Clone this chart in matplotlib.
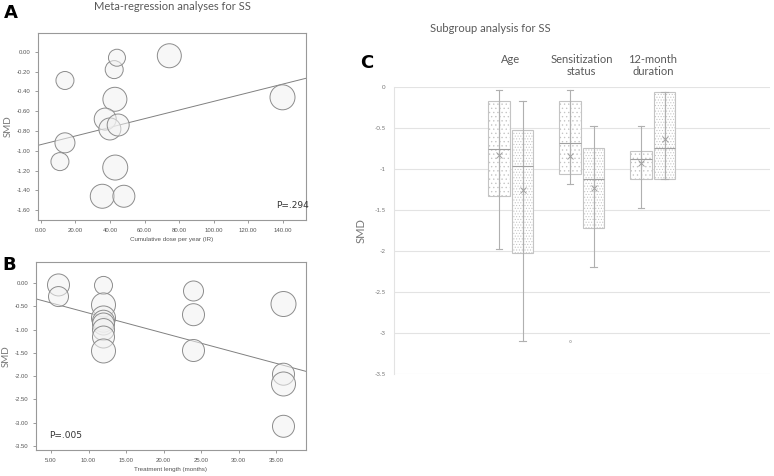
import matplotlib.pyplot as plt
import numpy as np

# ---- data ----
# A: meta-regression on cumulative dose
dose_a = [13.9, 11.0, 13.9, 42.4, 44.0, 74.3, 42.8, 37.2, 39.9, 44.7, 43.0, 35.5, 48.0, 139.8]
smd_a = [-0.29, -1.11, -0.92, -0.18, -0.06, -0.04, -0.48, -0.68, -0.78, -0.74, -1.17, -1.46, -1.46, -0.46]
weight_a = [9, 9, 10, 9, 8.5, 12, 12, 11, 11, 11, 12.5, 12, 11, 12.5]
fit_a = (-0.938, 0.00437)  # intercept, slope

# B: meta-regression on treatment length
months_b = [6, 6, 12, 12, 12, 12, 12, 12, 12, 12, 24, 24, 24, 36, 36, 36, 36]
smd_b = [-0.04, -0.29, -0.05, -0.47, -0.75, -0.82, -0.88, -1.00, -1.16, -1.46,
         -0.17, -0.68, -1.45, -0.45, -1.96, -2.17, -3.08]
weight_b = [11, 10, 9, 12, 12, 11, 11, 11, 11, 12, 10, 11, 11, 12.5, 11, 12, 11]
fit_b = (-0.21, -0.0433)

# C: subgroup box plots (two boxes per group)
groups = ['Age', 'Sensitization\nstatus', '12-month\nduration']
q1 = [-0.17, -0.53, -0.17, -0.75, -0.78, -0.06]
median = [-0.76, -0.97, -0.69, -1.12, -0.88, -0.75]
q3 = [-1.33, -2.02, -1.06, -1.72, -1.12, -1.12]
whis_hi = [-0.04, -0.17, -0.04, -0.48, -0.48, -0.06]
whis_lo = [-1.98, -3.10, -1.19, -2.20, -1.48, -1.12]
mean = [-0.83, -1.26, -0.84, -1.23, -0.93, -0.64]
outliers = [[], [], [-3.10], [], [], []]

grey_txt = '#595959'
plt.rcParams['font.family'] = ['Lato', 'DejaVu Sans']
plt.rcParams['hatch.linewidth'] = 0.45

fig = plt.figure(figsize=(7.74, 4.76), dpi=100)


def bubble_panel(ax, x, y, w, fit, xlim, ylim, xticks, yticks, xlabel, ptxt, ppos):
    s = [(2 * r * 0.72) ** 2 for r in w]
    ax.scatter(x, y, s=s, facecolor=(0.95, 0.95, 0.95, 0.55), edgecolor='#8c8c8c',
               linewidth=0.7, zorder=3)
    xx = np.array(xlim)
    ax.plot(xx, fit[0] + fit[1] * xx, color='#808080', lw=0.7, zorder=2)
    ax.set_xlim(xlim)
    ax.set_ylim(ylim)
    xticks = np.round(xticks, 2) + 0.0
    yticks = np.round(yticks, 2) + 0.0
    ax.set_xticks(xticks)
    ax.set_yticks(yticks)
    ax.set_xticklabels(['%.2f' % abs(t) if t == 0 else '%.2f' % t for t in xticks],
                       family='Liberation Sans')
    ax.set_yticklabels(['%.2f' % abs(t) if t == 0 else '%.2f' % t for t in yticks],
                       family='Liberation Sans')
    ax.tick_params(labelsize=4.3, colors='#8c8c8c', labelcolor='#555555', length=2, width=0.6)
    for sp in ax.spines.values():
        sp.set_color('#999999')
        sp.set_linewidth(0.8)
    ax.set_xlabel(xlabel, fontsize=4.5, color='#555555', labelpad=3, family='Liberation Sans')
    ax.set_ylabel('SMD', fontsize=7, color='#777777', labelpad=3)
    ax.text(ppos[0], ppos[1], ptxt, transform=ax.transAxes, fontsize=6.5, color='#333333',
            family='DejaVu Sans', ha='left', va='center')


# panel A
axA = fig.add_axes([38 / 774, 1 - 220 / 476, 268 / 774, 187 / 476])
bubble_panel(axA, dose_a, smd_a, weight_a, fit_a, (-1.7, 153.4), (-1.70, 0.19),
             np.arange(0, 141, 20), np.arange(-1.6, 0.01, 0.2),
             'Cumulative dose per year (IR)', 'P=.294', (0.89, 0.075))

# panel B
axB = fig.add_axes([36 / 774, 1 - 450 / 476, 270 / 774, 188.3 / 476])
bubble_panel(axB, months_b, smd_b, weight_b, fit_b, (3.0, 39.0), (-3.59, 0.46),
             np.arange(5, 36, 5), np.arange(-3.5, 0.01, 0.5),
             'Treatment length (months)', 'P=.005', (0.05, 0.075))

fig.text(172 / 774, 1 - 7 / 476, 'Meta-regression analyses for SS', ha='center', va='center',
         fontsize=8, color=grey_txt)
fig.text(4 / 774, 1 - 13 / 476, 'A', fontsize=13, fontweight='bold', family='DejaVu Sans',
         va='center')
fig.text(2 / 774, 1 - 265 / 476, 'B', fontsize=13, fontweight='bold', family='DejaVu Sans',
         va='center')

# panel C
axC = fig.add_axes([394 / 774, 1 - 374 / 476, 376 / 774, 287.3 / 476])
centers = np.array([1.645, 2.645, 3.645])
pos = []
for c in centers:
    pos += [c - 0.165, c + 0.165]
stats = []
for i in range(6):
    stats.append(dict(q1=q1[i], med=median[i], q3=q3[i], whislo=whis_lo[i],
                      whishi=whis_hi[i], mean=mean[i], fliers=outliers[i]))
bp = axC.bxp(stats, positions=pos, widths=0.30, showmeans=True, patch_artist=True,
             capwidths=0.09,
             boxprops=dict(edgecolor='#c4c4c4', linewidth=0.8),
             medianprops=dict(color='#a0a0a0', linewidth=0.8),
             whiskerprops=dict(color='#b0b0b0', linewidth=0.8),
             capprops=dict(color='#b0b0b0', linewidth=0.8),
             meanprops=dict(marker='x', markeredgecolor='#a0a0a0', markersize=4,
                            markeredgewidth=0.7),
             flierprops=dict(marker='o', markersize=1.5, markerfacecolor='none',
                             markeredgecolor='#b0b0b0', markeredgewidth=0.5))
for i, b in enumerate(bp['boxes']):
    b.set_facecolor('white')
    b.set_hatch('....' if i % 2 == 0 else '......')
yt_c = np.round(np.arange(-3.5, 0.01, 0.5), 1) + 0.0
axC.set_xlim(0, 376 / 71)
axC.set_ylim(-3.5, 0)
axC.set_yticks(yt_c)
axC.set_yticklabels(['%g' % abs(t) if t == 0 else '%g' % t for t in yt_c])
axC.set_xticks([])
axC.grid(axis='y', color='#e3e3e3', linewidth=0.8)
axC.set_axisbelow(True)
for k, sp in axC.spines.items():
    sp.set_visible(k == 'left')
axC.spines['left'].set_color('#e3e3e3')
axC.tick_params(axis='y', length=0, labelsize=4.5, labelcolor='#777777', pad=6)
axC.set_ylabel('SMD', fontsize=8, color='#777777', labelpad=6)
for c, g in zip(centers, groups):
    axC.text(c, 1.115, g, transform=axC.get_xaxis_transform(), ha='center', va='top',
             fontsize=8, color=grey_txt, linespacing=1.15)

fig.text(490 / 774, 1 - 29 / 476, 'Subgroup analysis for SS', ha='center', va='center',
         fontsize=8, color=grey_txt)
fig.text(360 / 774, 1 - 63 / 476, 'C', fontsize=13, fontweight='bold', family='DejaVu Sans',
         va='center')

fig.savefig('out.png', dpi=100)
